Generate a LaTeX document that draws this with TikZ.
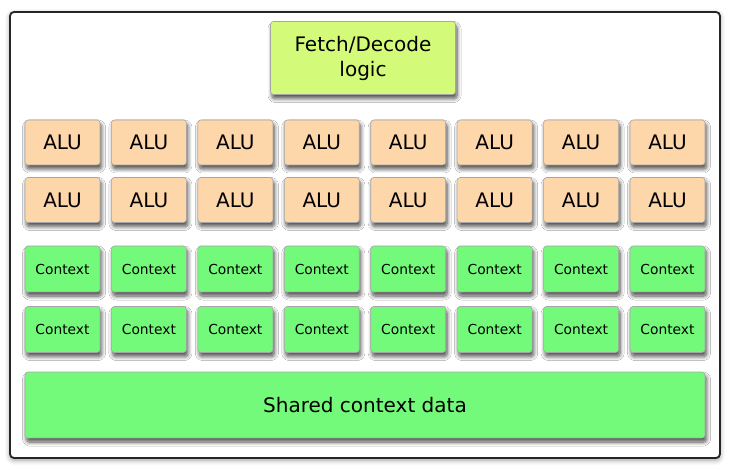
\documentclass[tikz,border=0pt]{standalone}
\usepackage{fontspec}
\setmainfont{DejaVu Sans}
\usetikzlibrary{shadows.blur}
\definecolor{alucol}{RGB}{253,214,170}
\definecolor{ctxcol}{RGB}{116,250,122}
\definecolor{fetchcol}{RGB}{212,250,122}
\tikzset{
  unit/.style = {draw=black!35, line width=0.6pt, rounded corners=3pt, inner sep=0pt,
    blur shadow={shadow xshift=1.5pt, shadow yshift=-4pt, shadow blur radius=4pt,
      shadow blur steps=8, shadow opacity=70}},
  alu/.style = {unit, fill=alucol, minimum width=75pt, minimum height=45pt,
    font=\fontsize{20}{22}\selectfont},
  ctx/.style = {unit, fill=ctxcol, minimum width=75pt, minimum height=46pt,
    font=\fontsize{13.8}{15}\selectfont}
}

\begin{document}
\begin{tikzpicture}[x=1pt,y=-1pt]
  \useasboundingbox (0,0) rectangle (731,470);
  % core outline
  \draw[line width=1.8pt, black!85, rounded corners=4pt, fill=white,
    blur shadow={shadow xshift=0pt, shadow yshift=-2pt, shadow blur radius=5pt, shadow opacity=40}]
    (10,12) rectangle (720,458);
  \node[unit, fill=fetchcol, minimum width=185pt, minimum height=73pt, align=center,
    font=\fontsize{20}{25}\selectfont] (fetch) at (363,58) {Fetch/Decode\\logic};
  % ALUs and contexts
  \foreach \i in {1,...,8} {
    \pgfmathsetmacro{\cx}{62.5+(\i-1)*86.43}
    \node[alu] (alu-1-\i) at (\cx,142.5) {ALU};
    \node[alu] (alu-2-\i) at (\cx,200) {ALU};
    \node[ctx] (ctx-1-\i) at (\cx,269) {Context};
    \node[ctx] (ctx-2-\i) at (\cx,329.5) {Context};
  }
  \node[unit, fill=ctxcol, minimum width=680pt, minimum height=66pt,
    font=\fontsize{20}{22}\selectfont] (shared) at (365,405) {Shared context data};
\end{tikzpicture}
\end{document}
